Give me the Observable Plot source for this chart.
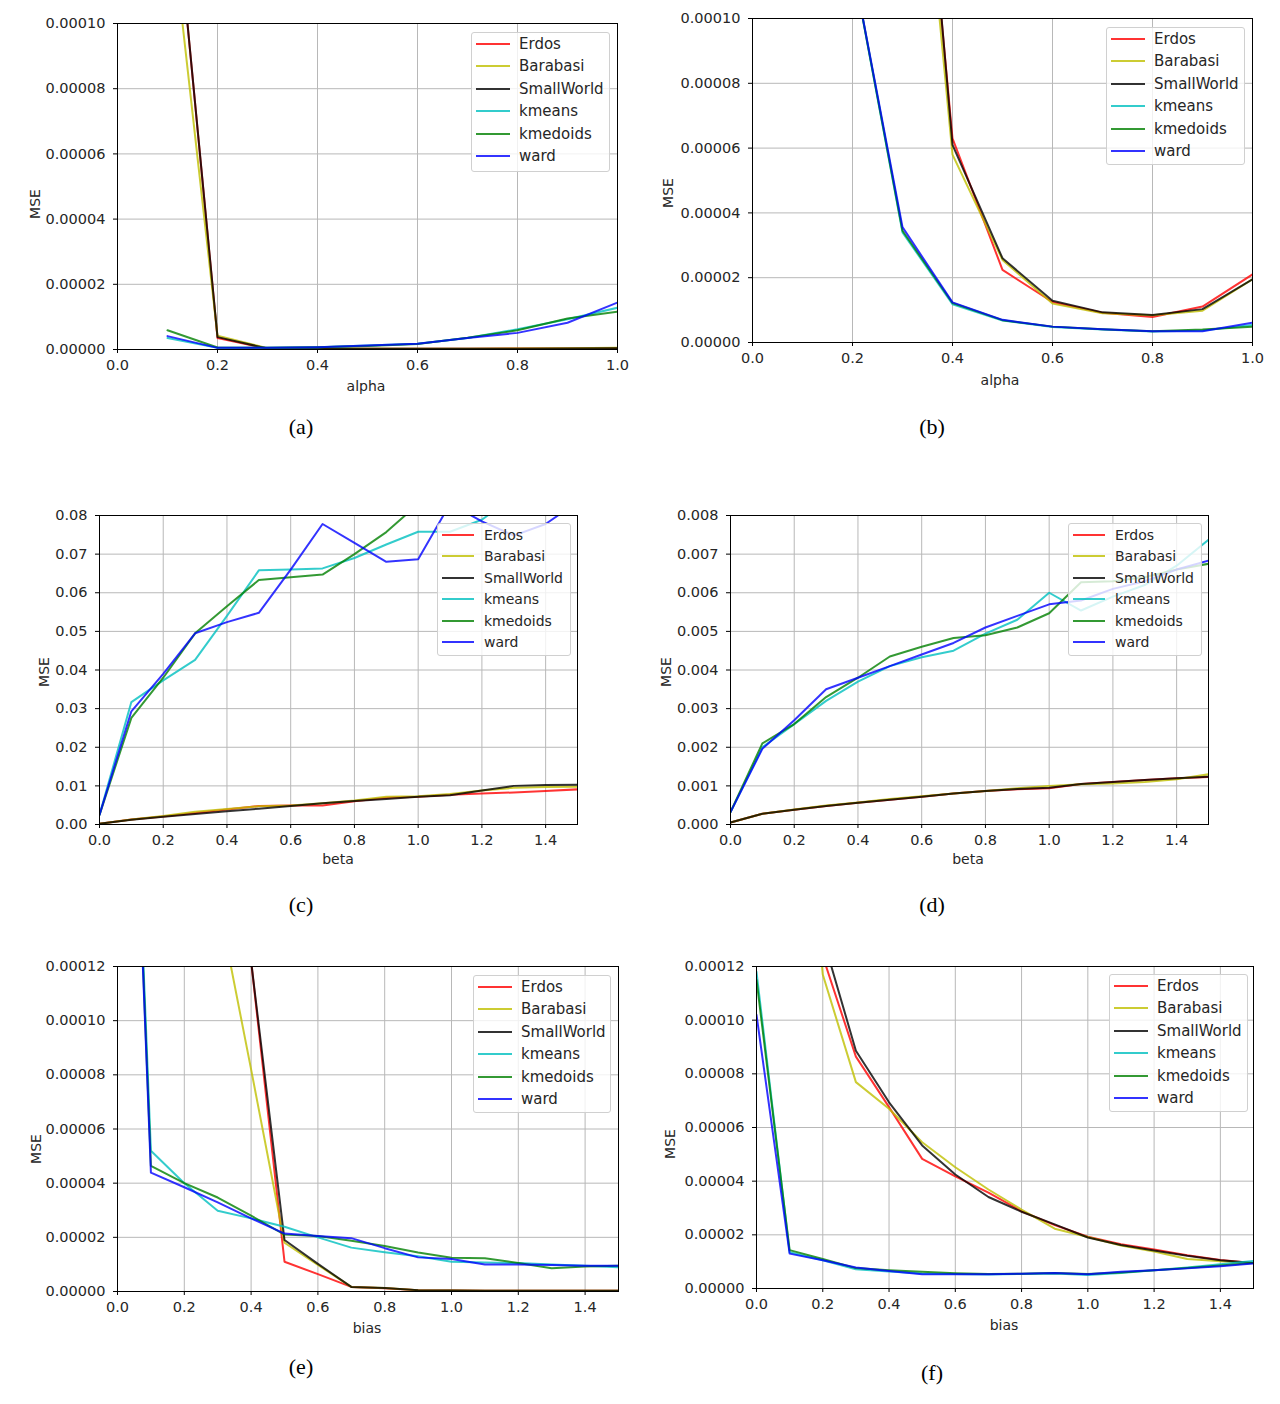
<!DOCTYPE html>
<html>
<head>
<meta charset="utf-8">
<script src="https://cdn.jsdelivr.net/npm/d3@7"></script>
<script src="https://cdn.jsdelivr.net/npm/@observablehq/plot@0.6"></script>
<style>
  html, body { margin: 0; padding: 0; background: #fff; }
  #root { position: relative; width: 1280px; height: 1404px; overflow: hidden; font-family: "DejaVu Sans", sans-serif; color: #222; }
  .abs { position: absolute; }
  .legend { position: absolute; background: rgba(255,255,255,0.8); border: 1px solid #d0d0d0; border-radius: 3px; box-sizing: border-box; }
  .lrow { position: absolute; left: 0; right: 0; display: flex; align-items: center; }
  .lsw { height: 2px; opacity: 0.8; }
  .lt { color: #262626; white-space: nowrap; }
  .cap { position: absolute; font-family: "Liberation Serif", "Times New Roman", serif; font-size: 22px; color: #000; transform: translate(-50%, -50%); }
  .xl { position: absolute; font-size: 14px; color: #262626; transform: translate(-50%, -50%); }
  .yl { position: absolute; font-size: 14px; color: #262626; transform: translate(-50%, -50%) rotate(-90deg); }
</style>
</head>
<body>
<div id="root"></div>
<script>
// ---------- data ----------
const seriesNames = ["Erdos", "Barabasi", "SmallWorld", "kmeans", "kmedoids", "ward"];
const seriesColors = ["#ff0000", "#bfbf00", "#000000", "#00bfbf", "#008000", "#0000ff"];

const alphaX = [0.1, 0.2, 0.3, 0.4, 0.5, 0.6, 0.7, 0.8, 0.9, 1.0];
const betaX = [0, 0.1, 0.2, 0.3, 0.4, 0.5, 0.6, 0.7, 0.8, 0.9, 1.0, 1.1, 1.2, 1.3, 1.4, 1.5];
const biasX = [0, 0.1, 0.2, 0.3, 0.4, 0.5, 0.6, 0.7, 0.8, 0.9, 1.0, 1.1, 1.2, 1.3, 1.4, 1.5];

const alphaTicks = [0, 0.2, 0.4, 0.6, 0.8, 1.0];
const wideTicks = [0, 0.2, 0.4, 0.6, 0.8, 1.0, 1.2, 1.4];
const yTicksA = [0, 0.00002, 0.00004, 0.00006, 0.00008, 0.0001];
const yTicksC = [0, 0.01, 0.02, 0.03, 0.04, 0.05, 0.06, 0.07, 0.08];
const yTicksD = [0, 0.001, 0.002, 0.003, 0.004, 0.005, 0.006, 0.007, 0.008];
const yTicksE = [0, 0.00002, 0.00004, 0.00006, 0.00008, 0.0001, 0.00012];

// (a) MSE vs alpha
const a_Erdos      = [1.64e-4, 3.5e-6, 3e-7, 2e-7, 2e-7, 2e-7, 2e-7, 3e-7, 3e-7, 4e-7];
const a_Barabasi   = [1.41e-4, 4.2e-6, 4e-7, 2e-7, 2e-7, 2e-7, 2e-7, 3e-7, 4e-7, 5e-7];
const a_SmallWorld = [1.64e-4, 3.8e-6, 3e-7, 2e-7, 2e-7, 2e-7, 2e-7, 2e-7, 3e-7, 4e-7];
const a_kmeans     = [3.5e-6, 5e-7, 5e-7, 7e-7, 1.2e-6, 1.8e-6, 3.5e-6, 6.2e-6, 9.3e-6, 1.28e-5];
const a_kmedoids   = [5.9e-6, 6e-7, 5e-7, 7e-7, 1.1e-6, 1.7e-6, 3.6e-6, 5.9e-6, 9.5e-6, 1.16e-5];
const a_ward       = [4.1e-6, 5e-7, 5e-7, 7e-7, 1.2e-6, 1.8e-6, 3.5e-6, 5.1e-6, 8.2e-6, 1.44e-5];

// (b) MSE vs alpha
const b_Erdos      = [6e-4, 4e-4, 2.3e-4, 6.3e-5, 2.24e-5, 1.25e-5, 9.2e-6, 7.9e-6, 1.11e-5, 2.1e-5];
const b_Barabasi   = [6e-4, 4e-4, 2.2e-4, 5.8e-5, 2.55e-5, 1.2e-5, 9e-6, 8.4e-6, 9.8e-6, 1.95e-5];
const b_SmallWorld = [6e-4, 4e-4, 2.4e-4, 6.1e-5, 2.6e-5, 1.29e-5, 9.3e-6, 8.5e-6, 1.03e-5, 1.95e-5];
const b_kmeans     = [5e-4, 1.17e-4, 3.4e-5, 1.18e-5, 6.8e-6, 4.8e-6, 4e-6, 3.4e-6, 3.7e-6, 5.4e-6];
const b_kmedoids   = [5e-4, 1.17e-4, 3.45e-5, 1.22e-5, 6.9e-6, 4.9e-6, 4.1e-6, 3.5e-6, 4e-6, 4.9e-6];
const b_ward       = [5e-4, 1.17e-4, 3.56e-5, 1.24e-5, 7e-6, 4.9e-6, 4.1e-6, 3.5e-6, 3.5e-6, 6.1e-6];

// (c) MSE vs beta
const c_Erdos      = [0.0002, 0.0013, 0.0021, 0.003, 0.0039, 0.0048, 0.0049, 0.0049, 0.006, 0.0069, 0.0072, 0.0077, 0.008, 0.0083, 0.0087, 0.0091];
const c_Barabasi   = [0.0002, 0.0013, 0.0022, 0.0033, 0.004, 0.0047, 0.0049, 0.0055, 0.0062, 0.0072, 0.0073, 0.0079, 0.0088, 0.0095, 0.0097, 0.0098];
const c_SmallWorld = [0.0002, 0.0012, 0.002, 0.0027, 0.0034, 0.0041, 0.0048, 0.0055, 0.0061, 0.0066, 0.0072, 0.0076, 0.0088, 0.01, 0.0102, 0.0103];
const c_kmeans     = [0.0025, 0.0317, 0.0373, 0.0426, 0.054, 0.0658, 0.066, 0.0663, 0.069, 0.0725, 0.0758, 0.0758, 0.0789, 0.085, 0.09, 0.095];
const c_kmedoids   = [0.0025, 0.0276, 0.038, 0.0495, 0.0565, 0.0633, 0.064, 0.0647, 0.07, 0.0757, 0.083, 0.09, 0.095, 0.1, 0.1, 0.1];
const c_ward       = [0.0025, 0.0293, 0.039, 0.0495, 0.0524, 0.0548, 0.066, 0.0778, 0.0729, 0.068, 0.0687, 0.083, 0.0785, 0.0748, 0.0778, 0.0835];

// (d) MSE vs beta
const d_Erdos      = [0.00005, 0.00028, 0.00038, 0.00048, 0.00056, 0.00064, 0.00072, 0.0008, 0.00087, 0.00091, 0.00094, 0.00105, 0.0011, 0.00115, 0.0012, 0.00123];
const d_Barabasi   = [0.00005, 0.00028, 0.00039, 0.00049, 0.00057, 0.00066, 0.00073, 0.0008, 0.00087, 0.00094, 0.001, 0.00104, 0.00106, 0.0011, 0.00117, 0.0013];
const d_SmallWorld = [0.00005, 0.00028, 0.00038, 0.00048, 0.00056, 0.00064, 0.00072, 0.0008, 0.00087, 0.00092, 0.00095, 0.00105, 0.0011, 0.00115, 0.0012, 0.00124];
const d_kmeans     = [0.00032, 0.002, 0.0026, 0.0032, 0.0037, 0.0041, 0.00433, 0.0045, 0.00494, 0.0053, 0.006, 0.00554, 0.0059, 0.0062, 0.0067, 0.00737];
const d_kmedoids   = [0.00032, 0.0021, 0.0026, 0.0033, 0.0038, 0.00435, 0.0046, 0.00483, 0.0049, 0.0051, 0.00547, 0.00627, 0.0063, 0.0064, 0.0066, 0.00675];
const d_ward       = [0.00032, 0.00196, 0.0027, 0.0035, 0.0038, 0.0041, 0.0044, 0.0047, 0.0051, 0.0054, 0.0057, 0.0058, 0.0061, 0.0063, 0.0066, 0.00683];

// (e) MSE vs bias
const e_Erdos      = [9e-4, 7e-4, 5.5e-4, 4e-4, 1.22e-4, 1.1e-5, 6.4e-6, 1.7e-6, 1.2e-6, 5e-7, 4e-7, 3e-7, 3e-7, 3e-7, 3e-7, 3e-7];
const e_Barabasi   = [9e-4, 7e-4, 5.5e-4, 1.45e-4, 8.2e-5, 1.8e-5, 9.8e-6, 1.7e-6, 1.3e-6, 5e-7, 4e-7, 3e-7, 3e-7, 3e-7, 3e-7, 3e-7];
const e_SmallWorld = [9e-4, 7e-4, 5.5e-4, 4e-4, 1.22e-4, 1.9e-5, 1.02e-5, 1.7e-6, 1.3e-6, 5e-7, 4e-7, 3e-7, 3e-7, 3e-7, 3e-7, 3e-7];
const e_kmeans     = [3.6e-4, 5.2e-5, 4.0e-5, 2.98e-5, 2.7e-5, 2.39e-5, 2.0e-5, 1.62e-5, 1.45e-5, 1.3e-5, 1.1e-5, 1.07e-5, 1.05e-5, 1.0e-5, 0.95e-5, 0.89e-5];
const e_kmedoids   = [3.6e-4, 4.64e-5, 4.0e-5, 3.47e-5, 2.8e-5, 2.1e-5, 2.05e-5, 1.87e-5, 1.68e-5, 1.44e-5, 1.25e-5, 1.23e-5, 1.05e-5, 0.86e-5, 0.92e-5, 0.95e-5];
const e_ward       = [3.6e-4, 4.39e-5, 3.85e-5, 3.29e-5, 2.7e-5, 2.14e-5, 2.05e-5, 1.97e-5, 1.6e-5, 1.26e-5, 1.2e-5, 1.0e-5, 1.0e-5, 0.98e-5, 0.95e-5, 0.95e-5];

// (f) MSE vs bias
const f_Erdos      = [6e-4, 3e-4, 1.238e-4, 8.64e-5, 6.76e-5, 4.83e-5, 4.18e-5, 3.57e-5, 2.88e-5, 2.36e-5, 1.93e-5, 1.65e-5, 1.45e-5, 1.24e-5, 1.06e-5, 0.95e-5];
const f_Barabasi   = [6e-4, 2.5e-4, 1.17e-4, 7.69e-5, 6.7e-5, 5.45e-5, 4.52e-5, 3.69e-5, 2.94e-5, 2.23e-5, 1.92e-5, 1.6e-5, 1.38e-5, 1.1e-5, 1.02e-5, 0.95e-5];
const f_SmallWorld = [6e-4, 3e-4, 1.31e-4, 8.86e-5, 6.94e-5, 5.33e-5, 4.25e-5, 3.41e-5, 2.86e-5, 2.39e-5, 1.9e-5, 1.62e-5, 1.42e-5, 1.22e-5, 1.05e-5, 0.95e-5];
const f_kmeans     = [1.18e-4, 1.35e-5, 1.05e-5, 7.2e-6, 6.3e-6, 5.6e-6, 5.4e-6, 5.2e-6, 5.4e-6, 5.6e-6, 5.0e-6, 5.8e-6, 6.8e-6, 7.8e-6, 9e-6, 1.03e-5];
const f_kmedoids   = [1.15e-4, 1.43e-5, 1.1e-5, 7.6e-6, 6.8e-6, 6.2e-6, 5.7e-6, 5.4e-6, 5.5e-6, 5.8e-6, 5.4e-6, 6e-6, 6.8e-6, 7.6e-6, 8.6e-6, 9.5e-6];
const f_ward       = [1.02e-4, 1.3e-5, 1.05e-5, 7.8e-6, 6.5e-6, 5.3e-6, 5.3e-6, 5.3e-6, 5.5e-6, 5.8e-6, 5.3e-6, 6.2e-6, 6.8e-6, 7.5e-6, 8.3e-6, 9.3e-6];

// ---------- layout ----------
const panels = [
  {id: "a", xs: alphaX, series: [a_Erdos, a_Barabasi, a_SmallWorld, a_kmeans, a_kmedoids, a_ward],
   xDomain: [0, 1], xTicks: alphaTicks, yDomain: [0, 0.0001], yTicks: yTicksA, yFmt: ".5f", xLabel: "alpha",
   frame: [117, 617, 23, 349], xlab: [366, 386], ylab: [35, 204], cap: [301, 427],
   legend: {left: 471, top: 32, width: 139, height: 140, font: 15, row: 22.4, sw: 34, gap: 9}},
  {id: "b", xs: alphaX, series: [b_Erdos, b_Barabasi, b_SmallWorld, b_kmeans, b_kmedoids, b_ward],
   xDomain: [0, 1], xTicks: alphaTicks, yDomain: [0, 0.0001], yTicks: yTicksA, yFmt: ".5f", xLabel: "alpha",
   frame: [752, 1252, 18, 342], xlab: [1000, 380], ylab: [668, 193], cap: [932, 427],
   legend: {left: 1106, top: 27, width: 139, height: 138, font: 15, row: 22.4, sw: 34, gap: 9}},
  {id: "c", xs: betaX, series: [c_Erdos, c_Barabasi, c_SmallWorld, c_kmeans, c_kmedoids, c_ward],
   xDomain: [0, 1.5], xTicks: wideTicks, yDomain: [0, 0.08], yTicks: yTicksC, yFmt: ".2f", xLabel: "beta",
   frame: [99, 577, 515, 824], xlab: [338, 859], ylab: [44, 672], cap: [301, 905],
   legend: {left: 437, top: 523, width: 134, height: 133, font: 14, row: 21.4, sw: 32, gap: 10}},
  {id: "d", xs: betaX, series: [d_Erdos, d_Barabasi, d_SmallWorld, d_kmeans, d_kmedoids, d_ward],
   xDomain: [0, 1.5], xTicks: wideTicks, yDomain: [0, 0.008], yTicks: yTicksD, yFmt: ".3f", xLabel: "beta",
   frame: [730, 1208, 515, 824], xlab: [968, 859], ylab: [666, 672], cap: [932, 905],
   legend: {left: 1068, top: 523, width: 134, height: 133, font: 14, row: 21.4, sw: 32, gap: 10}},
  {id: "e", xs: biasX, series: [e_Erdos, e_Barabasi, e_SmallWorld, e_kmeans, e_kmedoids, e_ward],
   xDomain: [0, 1.5], xTicks: wideTicks, yDomain: [0, 0.00012], yTicks: yTicksE, yFmt: ".5f", xLabel: "bias",
   frame: [117, 618, 966, 1291], xlab: [367, 1328], ylab: [36, 1149], cap: [301, 1367],
   legend: {left: 473, top: 975, width: 138, height: 138, font: 15, row: 22.4, sw: 34, gap: 9}},
  {id: "f", xs: biasX, series: [f_Erdos, f_Barabasi, f_SmallWorld, f_kmeans, f_kmedoids, f_ward],
   xDomain: [0, 1.5], xTicks: wideTicks, yDomain: [0, 0.00012], yTicks: yTicksE, yFmt: ".5f", xLabel: "bias",
   frame: [756, 1253, 966, 1288], xlab: [1004, 1325], ylab: [670, 1144], cap: [932, 1373],
   legend: {left: 1109, top: 974, width: 139, height: 138, font: 15, row: 22.4, sw: 34, gap: 9}},
];

const root = document.getElementById("root");
const ML = 100, MR = 20, MT = 10, MB = 40;

for (const p of panels) {
  const rows = [];
  p.series.forEach((vals, si) => {
    vals.forEach((v, i) => rows.push({x: p.xs[i], y: v, s: seriesNames[si]}));
  });
  const [fx0, fx1, fy0, fy1] = p.frame;
  const W = (fx1 - fx0) + ML + MR;
  const H = (fy1 - fy0) + MT + MB;

  const chart = Plot.plot({
    width: W, height: H,
    marginLeft: ML, marginRight: MR, marginTop: MT, marginBottom: MB,
    style: {fontFamily: "DejaVu Sans, sans-serif", fontSize: "14.5px", color: "#262626", background: "transparent", overflow: "visible"},
    x: {domain: p.xDomain},
    y: {domain: p.yDomain},
    color: {domain: seriesNames, range: seriesColors},
    marks: [
      Plot.gridX(p.xTicks, {stroke: "#b8b8b8", strokeOpacity: 1, strokeWidth: 1}),
      Plot.gridY(p.yTicks, {stroke: "#b8b8b8", strokeOpacity: 1, strokeWidth: 1}),
      Plot.line(rows, {x: "x", y: "y", z: "s", stroke: "s", strokeWidth: 2, strokeOpacity: 0.8, clip: true}),
      Plot.frame({stroke: "#000", strokeWidth: 1}),
      Plot.axisX(p.xTicks, {tickFormat: d3.format(".1f"), tickSize: 4, tickPadding: 6, label: null, stroke: "#000"}),
      Plot.axisY(p.yTicks, {tickFormat: d3.format(p.yFmt), tickSize: 4, tickPadding: 8, label: null, stroke: "#000"})
    ]
  });
  const holder = document.createElement("div");
  holder.className = "abs";
  holder.style.left = (fx0 - ML) + "px";
  holder.style.top = (fy0 - MT) + "px";
  holder.appendChild(chart);
  root.appendChild(holder);

  // axis labels
  const xl = document.createElement("div");
  xl.className = "xl"; xl.textContent = p.xLabel;
  xl.style.left = p.xlab[0] + "px"; xl.style.top = p.xlab[1] + "px";
  root.appendChild(xl);
  const yl = document.createElement("div");
  yl.className = "yl"; yl.textContent = "MSE";
  yl.style.left = p.ylab[0] + "px"; yl.style.top = p.ylab[1] + "px";
  root.appendChild(yl);

  // caption
  const cap = document.createElement("div");
  cap.className = "cap"; cap.textContent = "(" + p.id + ")";
  cap.style.left = p.cap[0] + "px"; cap.style.top = p.cap[1] + "px";
  root.appendChild(cap);

  // legend
  const L = p.legend;
  const lg = document.createElement("div");
  lg.className = "legend";
  lg.style.left = L.left + "px"; lg.style.top = L.top + "px";
  lg.style.width = L.width + "px"; lg.style.height = L.height + "px";
  seriesNames.forEach((name, i) => {
    const r = document.createElement("div");
    r.className = "lrow";
    r.style.top = (11 + i * L.row - 10) + "px";
    r.style.height = "20px";
    const sw = document.createElement("div");
    sw.className = "lsw";
    sw.style.width = L.sw + "px";
    sw.style.marginLeft = "4px";
    sw.style.background = seriesColors[i];
    const t = document.createElement("span");
    t.className = "lt";
    t.style.fontSize = L.font + "px";
    t.style.marginLeft = L.gap + "px";
    t.textContent = name;
    r.appendChild(sw); r.appendChild(t);
    lg.appendChild(r);
  });
  root.appendChild(lg);
}
</script>
</body>
</html>
